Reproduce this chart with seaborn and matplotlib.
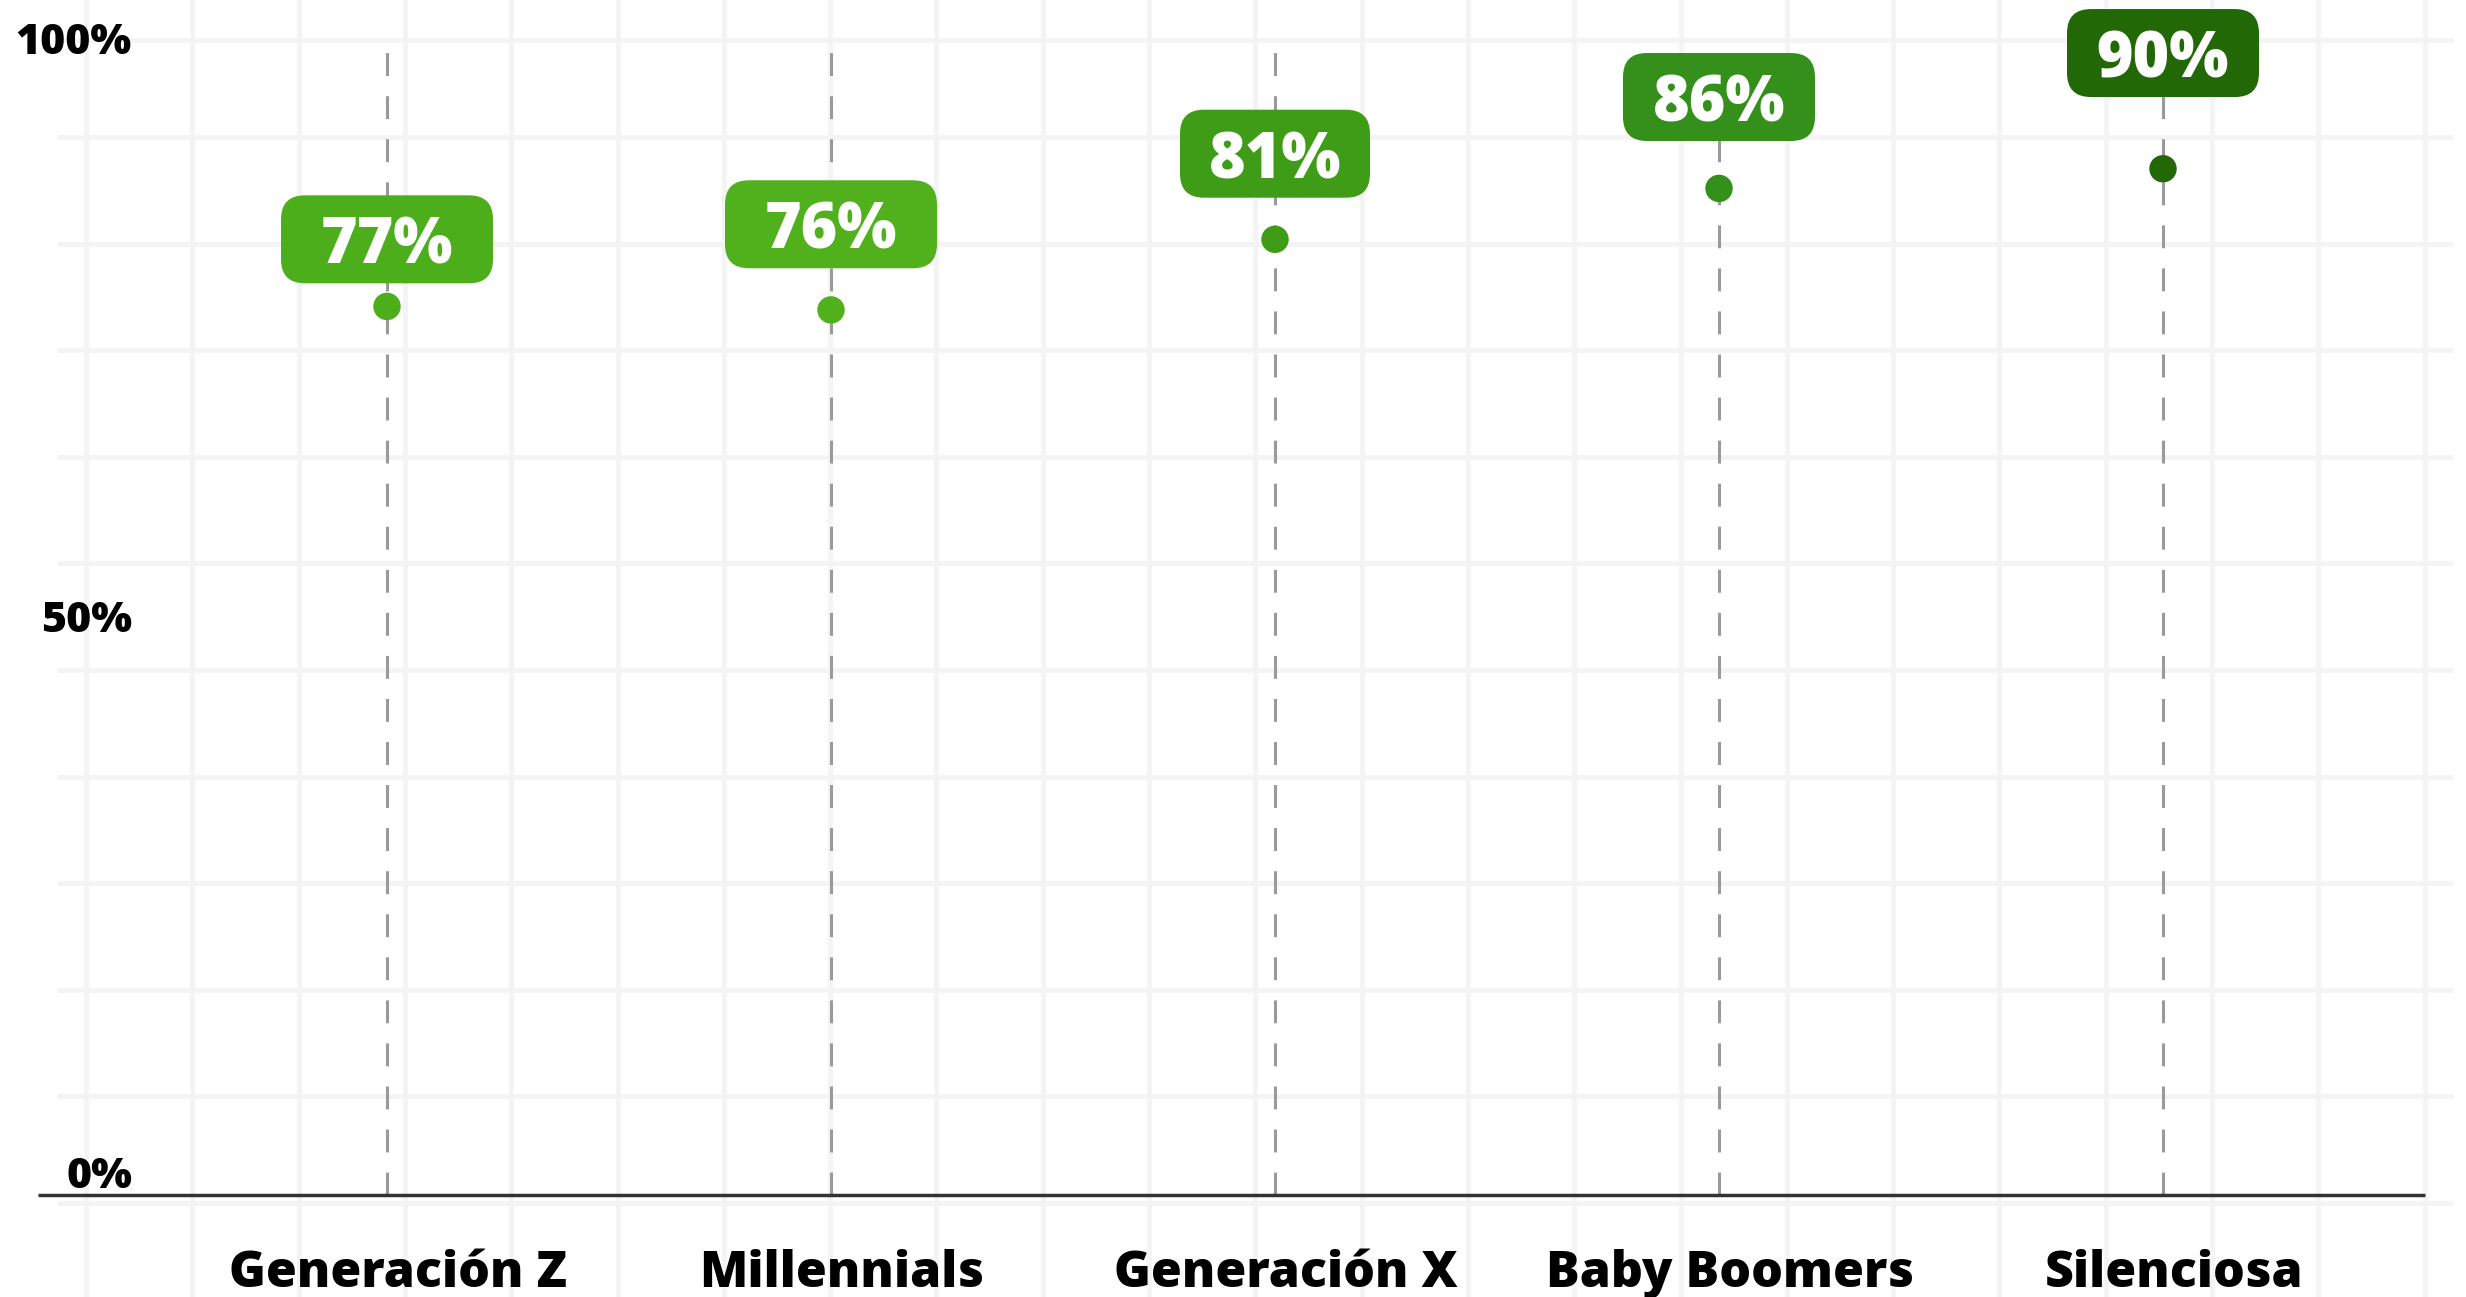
import numpy as np
import pandas as pd
import matplotlib
import matplotlib.pyplot as plt
import matplotlib.transforms as mtransforms
from matplotlib.patches import FancyBboxPatch
from matplotlib import font_manager
import seaborn as sns

# Data
generations = ['Generación Z', 'Millennials', 'Generación X', 'Baby Boomers', 'Silenciosa']
dot_values = [76.8, 76.5, 82.6, 87.0, 88.7]
label_values = [77, 76, 81, 86, 90]              # printed in the boxes
colors = ['#4CAE1B', '#51B11D', '#3E9C17', '#34901A', '#226807']
yticks = [0, 50, 100]

# Layout (pixels of the 2466x1297 output)
W, H = 2466, 1297
x0_px, x_step_px = 387, 444          # centre of first category, spacing
y0_px, y_step_px = 102, 11.57        # row of 0% (from bottom), px per %
box_y = [82.6, 83.9, 90.0, 94.9, 98.7]
box_w_px = [212, 212, 190, 192, 192]

sns.set_style('white')
plt.rcParams['font.family'] = ['Open Sans', 'DejaVu Sans']
plt.rcParams['lines.scale_dashes'] = False

print(sorted({(f.name, f.weight, f.stretch) for f in font_manager.fontManager.ttflist if 'Open' in f.name}))

fig = plt.figure(figsize=(W / 100, H / 100), dpi=100)

# background square grid
bg = fig.add_axes([0, 0, 1, 1])
bg.set_xlim(0, W)
bg.set_ylim(H, 0)
bg.axis('off')
for gx in np.arange(86, W, 106.3):
    bg.axvline(gx, color='#f4f4f4', lw=3.6)
for gy in [40] + list(np.arange(137, H, 106.6)):
    bg.hlines(gy, 57, 2453, color='#f4f4f4', lw=3.6)

ax = fig.add_axes([0, 0, 1, 1], zorder=1)
ax.patch.set_alpha(0)

df = pd.DataFrame({'generation': generations, 'pos': np.arange(len(generations)),
                   'value': dot_values})

# dashed guide lines
ax.vlines(df['pos'], 0, 100, color='#9a9a9a', lw=2.2, linestyles=[(0, (16.5, 14.5))], zorder=2)

sns.scatterplot(data=df, x='pos', y='value', hue='generation',
                palette=dict(zip(generations, colors)), s=390, linewidth=0,
                legend=False, ax=ax, zorder=3)

# label boxes
for i, (v, c) in enumerate(zip(label_values, colors)):
    w = box_w_px[i] / 100
    h = 0.88
    tr = fig.dpi_scale_trans + mtransforms.ScaledTranslation(i, box_y[i], ax.transData)
    box = FancyBboxPatch((-w / 2, -h / 2), w, h, boxstyle='round,pad=0,rounding_size=0.24',
                         transform=tr, facecolor=c, edgecolor='none', zorder=4, clip_on=False)
    ax.add_patch(box)
    ax.text(i, box_y[i], f'{v}%', ha='center', va='center_baseline', color='white',
            fontsize=45, fontweight=800, zorder=5)

# baseline
ax.hlines(0, (38 - x0_px) / x_step_px, (2425 - x0_px) / x_step_px, color='#333333', lw=2.5, zorder=2)

# y labels
xlab = (132 - x0_px) / x_step_px
for t in yticks:
    yy = t if t > 0 else 2.0
    ax.text(xlab, yy, f'{t}%', ha='right', va='center_baseline', fontsize=31,
            fontweight=800, color='black')

# category labels
for i, g in enumerate(generations):
    ax.text(i + 11 / x_step_px, (10 - y0_px) / y_step_px, g, ha='center', va='baseline',
            fontsize=36, fontweight=800, color='black')

ax.set_xlim(-x0_px / x_step_px, (W - x0_px) / x_step_px)
ax.set_ylim(-y0_px / y_step_px, (H - y0_px) / y_step_px)
ax.axis('off')

plt.savefig('out.png', dpi=100)
